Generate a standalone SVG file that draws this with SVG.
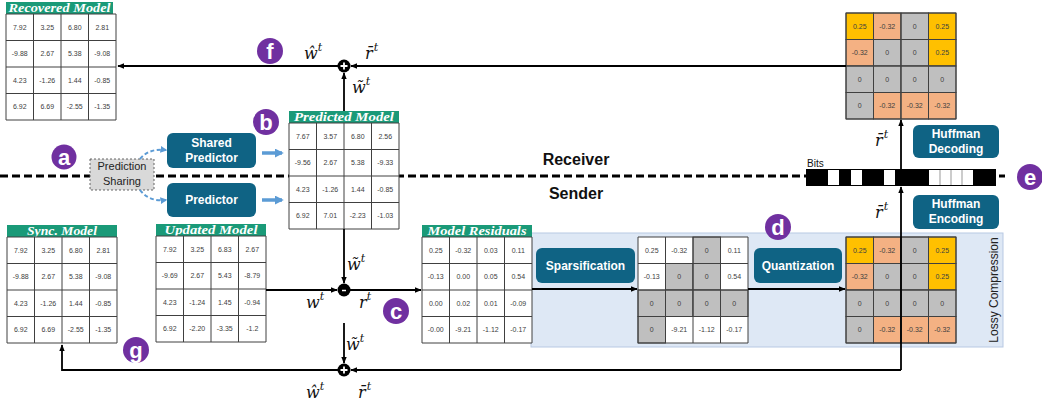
<svg xmlns="http://www.w3.org/2000/svg" xmlns:xlink="http://www.w3.org/1999/xlink" width="1042" height="404" viewBox="0 0 1042 404">
<style>
.c{font-family:"Liberation Sans",Arial,sans-serif;font-size:7px;fill:#404040;text-anchor:middle}
.tb{fill:#1A9A78}
.tt{font-family:"Liberation Serif","Times New Roman",serif;font-size:12px;font-weight:bold;font-style:italic;fill:#fff;text-anchor:middle}
.box{fill:#0F6384}
.bt{font-family:"Liberation Sans",Arial,sans-serif;font-size:12px;font-weight:bold;fill:#fff;text-anchor:middle}
.pc{fill:#7030A0}
.pl{font-family:"Liberation Sans",Arial,sans-serif;font-size:22px;font-weight:bold;fill:#fff;text-anchor:middle}
.m{font-family:"DejaVu Serif",serif;font-size:16px;font-style:italic;fill:#111}
.sup{font-size:11px}
.ln{fill:none;stroke:#000;stroke-width:1.8}
.Y{fill:#FFC000;stroke:#404040;stroke-width:1}
.S{fill:#F4B183;stroke:#404040;stroke-width:1}
.G{fill:#BFBFBF;stroke:#404040;stroke-width:1}
.W{fill:#fff}
.sr{font-family:"Liberation Sans",Arial,sans-serif;font-size:16px;font-weight:bold;fill:#111;text-anchor:middle}
</style>
<defs>
<path id="grid" d="M0,0H110V106H0Z M27.5,0V106 M55,0V106 M82.5,0V106 M0,26.5H110 M0,53H110 M0,79.5H110" fill="none" stroke="#404040" stroke-width="1"/>
<marker id="ah" viewBox="0 0 10 10" refX="9" refY="5" markerWidth="7" markerHeight="7" markerUnits="userSpaceOnUse" orient="auto"><path d="M0,1 L10,5 L0,9 Z" fill="#000"/></marker>
<marker id="bh" viewBox="0 0 10 10" refX="8" refY="5" markerWidth="9" markerHeight="9" markerUnits="userSpaceOnUse" orient="auto"><path d="M0,0 L10,5 L0,10 Z" fill="#5B9BD5"/></marker>
<marker id="dh" viewBox="0 0 10 10" refX="8" refY="5" markerWidth="7" markerHeight="7" markerUnits="userSpaceOnUse" orient="auto"><path d="M0,0 L10,5 L0,10 Z" fill="#5B9BD5"/></marker>
</defs>

<g id="lossy-compression">
<rect x="531" y="233" width="472" height="114" fill="#DEE8F5" stroke="#B8C9E3" stroke-width="1"/>
<text transform="translate(998,290) rotate(-90)" font-family="Liberation Sans,Arial,sans-serif" font-size="12" fill="#222" text-anchor="middle">Lossy Compression</text>
</g>

<g id="separator">
<path d="M0,176 H806" fill="none" stroke="#000" stroke-width="3" stroke-dasharray="8 4"/>
<path d="M999,176 H1005" fill="none" stroke="#000" stroke-width="3"/>
<text class="sr" x="576" y="165">Receiver</text>
<text class="sr" x="576" y="199">Sender</text>
</g>

<g id="recovered-model">
<rect class="tb" x="6" y="2" width="107" height="12"/>
<text class="tt" x="59.5" y="11.8" textLength="102" lengthAdjust="spacingAndGlyphs">Recovered Model</text>
<g transform="translate(6,14)">
<rect class="W" width="110" height="106"/>
<text class="c" x="13.75" y="15.8">7.92</text><text class="c" x="41.25" y="15.8">3.25</text><text class="c" x="68.75" y="15.8">6.80</text><text class="c" x="96.25" y="15.8">2.81</text>
<text class="c" x="13.75" y="42.3">-9.88</text><text class="c" x="41.25" y="42.3">2.67</text><text class="c" x="68.75" y="42.3">5.38</text><text class="c" x="96.25" y="42.3">-9.08</text>
<text class="c" x="13.75" y="68.8">4.23</text><text class="c" x="41.25" y="68.8">-1.26</text><text class="c" x="68.75" y="68.8">1.44</text><text class="c" x="96.25" y="68.8">-0.85</text>
<text class="c" x="13.75" y="95.3">6.92</text><text class="c" x="41.25" y="95.3">6.69</text><text class="c" x="68.75" y="95.3">-2.55</text><text class="c" x="96.25" y="95.3">-1.35</text>
<use href="#grid"/>
</g>
</g>

<g id="predicted-model">
<rect class="tb" x="289" y="111" width="110" height="12"/>
<text class="tt" x="344" y="120.8" textLength="100" lengthAdjust="spacingAndGlyphs">Predicted Model</text>
<g transform="translate(289,123)">
<rect class="W" width="110" height="106"/>
<text class="c" x="13.75" y="15.8">7.67</text><text class="c" x="41.25" y="15.8">3.57</text><text class="c" x="68.75" y="15.8">6.80</text><text class="c" x="96.25" y="15.8">2.56</text>
<text class="c" x="13.75" y="42.3">-9.56</text><text class="c" x="41.25" y="42.3">2.67</text><text class="c" x="68.75" y="42.3">5.38</text><text class="c" x="96.25" y="42.3">-9.33</text>
<text class="c" x="13.75" y="68.8">4.23</text><text class="c" x="41.25" y="68.8">-1.26</text><text class="c" x="68.75" y="68.8">1.44</text><text class="c" x="96.25" y="68.8">-0.85</text>
<text class="c" x="13.75" y="95.3">6.92</text><text class="c" x="41.25" y="95.3">7.01</text><text class="c" x="68.75" y="95.3">-2.23</text><text class="c" x="96.25" y="95.3">-1.03</text>
<use href="#grid"/>
</g>
</g>

<g id="sync-model">
<rect class="tb" x="7" y="225" width="110" height="12"/>
<text class="tt" x="62" y="234.8" textLength="70" lengthAdjust="spacingAndGlyphs">Sync. Model</text>
<g transform="translate(7,237)">
<rect class="W" width="110" height="106"/>
<text class="c" x="13.75" y="15.8">7.92</text><text class="c" x="41.25" y="15.8">3.25</text><text class="c" x="68.75" y="15.8">6.80</text><text class="c" x="96.25" y="15.8">2.81</text>
<text class="c" x="13.75" y="42.3">-9.88</text><text class="c" x="41.25" y="42.3">2.67</text><text class="c" x="68.75" y="42.3">5.38</text><text class="c" x="96.25" y="42.3">-9.08</text>
<text class="c" x="13.75" y="68.8">4.23</text><text class="c" x="41.25" y="68.8">-1.26</text><text class="c" x="68.75" y="68.8">1.44</text><text class="c" x="96.25" y="68.8">-0.85</text>
<text class="c" x="13.75" y="95.3">6.92</text><text class="c" x="41.25" y="95.3">6.69</text><text class="c" x="68.75" y="95.3">-2.55</text><text class="c" x="96.25" y="95.3">-1.35</text>
<use href="#grid"/>
</g>
</g>

<g id="updated-model">
<rect class="tb" x="156" y="224" width="110" height="12"/>
<text class="tt" x="211" y="233.8" textLength="93" lengthAdjust="spacingAndGlyphs">Updated Model</text>
<g transform="translate(156,236)">
<rect class="W" width="110" height="106"/>
<text class="c" x="13.75" y="15.8">7.92</text><text class="c" x="41.25" y="15.8">3.25</text><text class="c" x="68.75" y="15.8">6.83</text><text class="c" x="96.25" y="15.8">2.67</text>
<text class="c" x="13.75" y="42.3">-9.69</text><text class="c" x="41.25" y="42.3">2.67</text><text class="c" x="68.75" y="42.3">5.43</text><text class="c" x="96.25" y="42.3">-8.79</text>
<text class="c" x="13.75" y="68.8">4.23</text><text class="c" x="41.25" y="68.8">-1.24</text><text class="c" x="68.75" y="68.8">1.45</text><text class="c" x="96.25" y="68.8">-0.94</text>
<text class="c" x="13.75" y="95.3">6.92</text><text class="c" x="41.25" y="95.3">-2.20</text><text class="c" x="68.75" y="95.3">-3.35</text><text class="c" x="96.25" y="95.3">-1.2</text>
<use href="#grid"/>
</g>
</g>

<g id="model-residuals">
<rect class="tb" x="422" y="225" width="110" height="12"/>
<text class="tt" x="477" y="234.8" textLength="99" lengthAdjust="spacingAndGlyphs">Model Residuals</text>
<g transform="translate(422,237)">
<rect class="W" width="110" height="106"/>
<text class="c" x="13.75" y="15.8">0.25</text><text class="c" x="41.25" y="15.8">-0.32</text><text class="c" x="68.75" y="15.8">0.03</text><text class="c" x="96.25" y="15.8">0.11</text>
<text class="c" x="13.75" y="42.3">-0.13</text><text class="c" x="41.25" y="42.3">0.00</text><text class="c" x="68.75" y="42.3">0.05</text><text class="c" x="96.25" y="42.3">0.54</text>
<text class="c" x="13.75" y="68.8">0.00</text><text class="c" x="41.25" y="68.8">0.02</text><text class="c" x="68.75" y="68.8">0.01</text><text class="c" x="96.25" y="68.8">-0.09</text>
<text class="c" x="13.75" y="95.3">-0.00</text><text class="c" x="41.25" y="95.3">-9.21</text><text class="c" x="68.75" y="95.3">-1.12</text><text class="c" x="96.25" y="95.3">-0.17</text>
<use href="#grid"/>
</g>
</g>

<g id="sparsified-matrix" transform="translate(638,237)">
<rect class="W" width="110" height="106"/>
<rect class="G" x="55" y="0" width="27.5" height="26.5"/>
<rect class="G" x="27.5" y="26.5" width="27.5" height="26.5"/><rect class="G" x="55" y="26.5" width="27.5" height="26.5"/>
<rect class="G" x="0" y="53" width="27.5" height="26.5"/><rect class="G" x="27.5" y="53" width="27.5" height="26.5"/><rect class="G" x="55" y="53" width="27.5" height="26.5"/><rect class="G" x="82.5" y="53" width="27.5" height="26.5"/>
<rect class="G" x="0" y="79.5" width="27.5" height="26.5"/>
<text class="c" x="13.75" y="15.8">0.25</text><text class="c" x="41.25" y="15.8">-0.32</text><text class="c" x="68.75" y="15.8">0</text><text class="c" x="96.25" y="15.8">0.11</text>
<text class="c" x="13.75" y="42.3">-0.13</text><text class="c" x="41.25" y="42.3">0</text><text class="c" x="68.75" y="42.3">0</text><text class="c" x="96.25" y="42.3">0.54</text>
<text class="c" x="13.75" y="68.8">0</text><text class="c" x="41.25" y="68.8">0</text><text class="c" x="68.75" y="68.8">0</text><text class="c" x="96.25" y="68.8">0</text>
<text class="c" x="13.75" y="95.3">0</text><text class="c" x="41.25" y="95.3">-9.21</text><text class="c" x="68.75" y="95.3">-1.12</text><text class="c" x="96.25" y="95.3">-0.17</text>
<use href="#grid"/>
</g>

<g id="quantized-sender" transform="translate(846,237)">
<rect class="Y" x="0" y="0" width="27.5" height="26.5"/><rect class="S" x="27.5" y="0" width="27.5" height="26.5"/><rect class="G" x="55" y="0" width="27.5" height="26.5"/><rect class="Y" x="82.5" y="0" width="27.5" height="26.5"/>
<rect class="S" x="0" y="26.5" width="27.5" height="26.5"/><rect class="G" x="27.5" y="26.5" width="27.5" height="26.5"/><rect class="G" x="55" y="26.5" width="27.5" height="26.5"/><rect class="Y" x="82.5" y="26.5" width="27.5" height="26.5"/>
<rect class="G" x="0" y="53" width="27.5" height="26.5"/><rect class="G" x="27.5" y="53" width="27.5" height="26.5"/><rect class="G" x="55" y="53" width="27.5" height="26.5"/><rect class="G" x="82.5" y="53" width="27.5" height="26.5"/>
<rect class="G" x="0" y="79.5" width="27.5" height="26.5"/><rect class="S" x="27.5" y="79.5" width="27.5" height="26.5"/><rect class="S" x="55" y="79.5" width="27.5" height="26.5"/><rect class="S" x="82.5" y="79.5" width="27.5" height="26.5"/>
<text class="c" x="13.75" y="15.8">0.25</text><text class="c" x="41.25" y="15.8">-0.32</text><text class="c" x="68.75" y="15.8">0</text><text class="c" x="96.25" y="15.8">0.25</text>
<text class="c" x="13.75" y="42.3">-0.32</text><text class="c" x="41.25" y="42.3">0</text><text class="c" x="68.75" y="42.3">0</text><text class="c" x="96.25" y="42.3">0.25</text>
<text class="c" x="13.75" y="68.8">0</text><text class="c" x="41.25" y="68.8">0</text><text class="c" x="68.75" y="68.8">0</text><text class="c" x="96.25" y="68.8">0</text>
<text class="c" x="13.75" y="95.3">0</text><text class="c" x="41.25" y="95.3">-0.32</text><text class="c" x="68.75" y="95.3">-0.32</text><text class="c" x="96.25" y="95.3">-0.32</text>
<use href="#grid"/>
</g>

<g id="quantized-receiver" transform="translate(846,13)">
<rect class="Y" x="0" y="0" width="27.5" height="26.5"/><rect class="S" x="27.5" y="0" width="27.5" height="26.5"/><rect class="G" x="55" y="0" width="27.5" height="26.5"/><rect class="Y" x="82.5" y="0" width="27.5" height="26.5"/>
<rect class="S" x="0" y="26.5" width="27.5" height="26.5"/><rect class="G" x="27.5" y="26.5" width="27.5" height="26.5"/><rect class="G" x="55" y="26.5" width="27.5" height="26.5"/><rect class="Y" x="82.5" y="26.5" width="27.5" height="26.5"/>
<rect class="G" x="0" y="53" width="27.5" height="26.5"/><rect class="G" x="27.5" y="53" width="27.5" height="26.5"/><rect class="G" x="55" y="53" width="27.5" height="26.5"/><rect class="G" x="82.5" y="53" width="27.5" height="26.5"/>
<rect class="G" x="0" y="79.5" width="27.5" height="26.5"/><rect class="S" x="27.5" y="79.5" width="27.5" height="26.5"/><rect class="S" x="55" y="79.5" width="27.5" height="26.5"/><rect class="S" x="82.5" y="79.5" width="27.5" height="26.5"/>
<text class="c" x="13.75" y="15.8">0.25</text><text class="c" x="41.25" y="15.8">-0.32</text><text class="c" x="68.75" y="15.8">0</text><text class="c" x="96.25" y="15.8">0.25</text>
<text class="c" x="13.75" y="42.3">-0.32</text><text class="c" x="41.25" y="42.3">0</text><text class="c" x="68.75" y="42.3">0</text><text class="c" x="96.25" y="42.3">0.25</text>
<text class="c" x="13.75" y="68.8">0</text><text class="c" x="41.25" y="68.8">0</text><text class="c" x="68.75" y="68.8">0</text><text class="c" x="96.25" y="68.8">0</text>
<text class="c" x="13.75" y="95.3">0</text><text class="c" x="41.25" y="95.3">-0.32</text><text class="c" x="68.75" y="95.3">-0.32</text><text class="c" x="96.25" y="95.3">-0.32</text>
<use href="#grid"/>
</g>

<g id="shared-predictor">
<rect class="box" x="167" y="133" width="89" height="35" rx="6"/>
<text class="bt" x="211.5" y="147">Shared</text>
<text class="bt" x="211.5" y="162">Predictor</text>
</g>
<g id="predictor">
<rect class="box" x="167" y="183" width="89" height="34" rx="6"/>
<text class="bt" x="211.5" y="204">Predictor</text>
</g>
<g id="prediction-sharing">
<rect x="90" y="159" width="64" height="31" fill="#D9D9D9" stroke="#555" stroke-width="0.9" stroke-dasharray="2 2"/>
<text x="122" y="170" font-family="Liberation Sans,Arial,sans-serif" font-size="11" fill="#222" text-anchor="middle">Prediction</text>
<text x="122" y="185" font-family="Liberation Sans,Arial,sans-serif" font-size="11" fill="#222" text-anchor="middle">Sharing</text>
</g>
<g id="sparsification">
<rect class="box" x="536" y="248" width="99" height="35" rx="6"/>
<text class="bt" x="585.5" y="270">Sparsification</text>
</g>
<g id="quantization">
<rect class="box" x="754" y="248" width="88" height="35" rx="6"/>
<text class="bt" x="798" y="270">Quantization</text>
</g>
<g id="huffman-decoding">
<rect class="box" x="913" y="125" width="86" height="33" rx="6"/>
<text class="bt" x="956" y="138">Huffman</text>
<text class="bt" x="956" y="153">Decoding</text>
</g>
<g id="huffman-encoding">
<rect class="box" x="913" y="195" width="86" height="34" rx="6"/>
<text class="bt" x="956" y="208">Huffman</text>
<text class="bt" x="956" y="223">Encoding</text>
</g>
<g id="bits">
<text x="807" y="167" font-family="Liberation Sans,Arial,sans-serif" font-size="10" fill="#111">Bits</text>
<rect x="806" y="169" width="190" height="17" fill="#000"/>
<rect x="828" y="170" width="11" height="15" fill="#fff"/>
<rect x="851" y="170" width="11" height="15" fill="#fff"/>
<rect x="884" y="170" width="11" height="15" fill="#fff"/>
<rect x="929" y="170" width="44" height="15" fill="#fff"/>
<path d="M940,170V185 M951,170V185 M962,170V185" stroke="#999" stroke-width="1"/>
</g>

<g id="connectors">
<path class="ln" d="M846,66 H351" marker-end="url(#ah)"/>
<path class="ln" d="M338,66 H118" marker-end="url(#ah)"/>
<path class="ln" d="M344,111 V73" marker-end="url(#ah)"/>
<path class="ln" d="M344,229 V283" marker-end="url(#ah)"/>
<path class="ln" d="M266,290 H337" marker-end="url(#ah)"/>
<path class="ln" d="M350,290 H421" marker-end="url(#ah)"/>
<path class="ln" d="M344,323 V363" marker-end="url(#ah)"/>
<path class="ln" d="M901,370 H351" marker-end="url(#ah)"/>
<path class="ln" d="M338,370 H62 V345" marker-end="url(#ah)"/>
<path class="ln" d="M901,370 V187" marker-end="url(#ah)"/>
<path class="ln" d="M901,169 V120" marker-end="url(#ah)"/>
<path class="ln" d="M532,289 H637" marker-end="url(#ah)"/>
<path class="ln" d="M748,289 H845" marker-end="url(#ah)"/>
<path d="M262,153 H282" fill="none" stroke="#5B9BD5" stroke-width="3.5" marker-end="url(#bh)"/>
<path d="M262,200 H282" fill="none" stroke="#5B9BD5" stroke-width="3.5" marker-end="url(#bh)"/>
<path d="M140,159 Q149,148 166,150" fill="none" stroke="#5B9BD5" stroke-width="2" stroke-dasharray="4 2.5" marker-end="url(#dh)"/>
<path d="M140,190 Q149,202 166,200" fill="none" stroke="#5B9BD5" stroke-width="2" stroke-dasharray="4 2.5" marker-end="url(#dh)"/>
<circle cx="344" cy="66" r="6.5" fill="#000"/>
<path d="M340.5,66 H347.5 M344,62.5 V69.5" stroke="#fff" stroke-width="1.8"/>
<circle cx="344" cy="290" r="6.5" fill="#000"/>
<path d="M342,290.5 H346" stroke="#fff" stroke-width="1.5"/>
<circle cx="344" cy="370" r="6.5" fill="#000"/>
<path d="M340.5,370 H347.5 M344,366.5 V373.5" stroke="#fff" stroke-width="1.8"/>
</g>

<g id="labels">
<text class="m" x="304" y="59">ŵ<tspan class="sup" dy="-8">t</tspan></text>
<text class="m" x="365" y="59">r̄<tspan class="sup" dx="1" dy="-8">t</tspan></text>
<text class="m" x="352" y="93">w̃<tspan class="sup" dy="-8">t</tspan></text>
<text class="m" x="347" y="270">w̃<tspan class="sup" dy="-8">t</tspan></text>
<text class="m" x="306" y="308">w<tspan class="sup" dy="-8">t</tspan></text>
<text class="m" x="359" y="308">r<tspan class="sup" dy="-8">t</tspan></text>
<text class="m" x="346" y="350">w̃<tspan class="sup" dy="-8">t</tspan></text>
<text class="m" x="306" y="398">ŵ<tspan class="sup" dy="-8">t</tspan></text>
<text class="m" x="358" y="398">r̄<tspan class="sup" dx="1" dy="-8">t</tspan></text>
<text class="m" x="875" y="146">r̄<tspan class="sup" dx="1" dy="-8">t</tspan></text>
<text class="m" x="875" y="218">r̄<tspan class="sup" dx="1" dy="-8">t</tspan></text>
</g>

<g id="markers">
<circle class="pc" cx="64" cy="157" r="12.5"/><text class="pl" x="64" y="164.5">a</text>
<circle class="pc" cx="266" cy="122" r="13"/><text class="pl" x="266" y="129.5">b</text>
<circle class="pc" cx="396" cy="311" r="13"/><text class="pl" x="396" y="318.5">c</text>
<circle class="pc" cx="778" cy="227" r="13"/><text class="pl" x="778" y="234.5">d</text>
<circle class="pc" cx="1030" cy="177" r="13"/><text class="pl" x="1030" y="184.5">e</text>
<circle class="pc" cx="270" cy="51" r="13"/><text class="pl" x="270" y="58.5">f</text>
<circle class="pc" cx="136" cy="350" r="13"/><text class="pl" x="136" y="357.5">g</text>
</g>
</svg>
